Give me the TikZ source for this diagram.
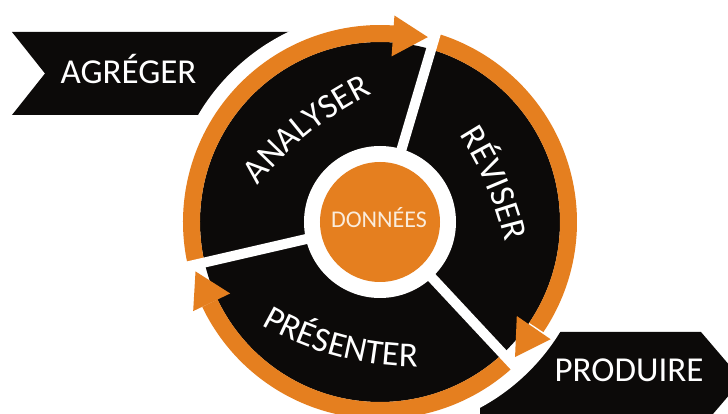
\documentclass[tikz,border=0pt]{standalone}
\usepackage{fontspec}
\setmainfont{Carlito}
\usetikzlibrary{decorations.text}
\definecolor{orng}{RGB}{229,127,31}
\definecolor{blk}{RGB}{12,10,9}
\definecolor{cream}{RGB}{250,236,220}
\begin{document}
\begin{tikzpicture}[x=1pt,y=1pt,
  bannertext/.style={text=white, font=\fontsize{35}{40}\selectfont, inner sep=0pt, anchor=base},
  band/.style={draw=orng, line width=17pt},
  gapline/.style={draw=white, line width=10pt},
  headshape/.style={fill=orng},
  ringtext/.style={decorate, decoration={text along path, text align=center, text color=white, text={|\fontsize{35}{40}\selectfont|#1}}}
]
\clip (-380,-192) rectangle (348,222);
\fill[white] (-380,-192) rectangle (348,222);
% banners
\fill[blk] (-368,190) -- (-40,190) -- (-40,107) -- (-368,107) -- (-335,148.5) -- cycle;
\fill[blk] (100,-110) -- (321,-110) -- (362,-158) -- (321,-206) -- (100,-206) -- cycle;
\fill[white] (0,0) circle[radius=211];
\node[bannertext] (agreger) at (-251.5,138.5) {AGRÉGER};
\node[bannertext] (produire) at (249,-160) {PRODUIRE};
% ring
\fill[blk] (0,0) circle[radius=180];
\fill[white] (0,0) circle[radius=76];
\fill[orng] (0,0) circle[radius=60];
\draw[band] (193:188.5) arc[start angle=193, end angle=85.5, radius=188.5];
\draw[band] (73.5:188.5) arc[start angle=73.5, end angle=-34, radius=188.5];
\draw[band] (-47:188.5) arc[start angle=-47, end angle=-154.5, radius=188.5];
\foreach \g in {73.5,193,313} \draw[gapline] (\g:70) -- (\g:205);
\foreach \g in {73.5,193,313} \fill[headshape] (\g+2:191) -- (\g+12.5:207) -- (\g+12.5:166) -- cycle;
% ring texts
\path[shift={(142.6,-176.7)}, ringtext=ANALYSER] (148.7:340) arc[start angle=148.7, end angle=108.7, radius=340];
\path[shift={(-205.1,-97.5)}, ringtext=RÉVISER] (43.1:339) arc[start angle=43.1, end angle=3.1, radius=339];
\path[shift={(37.5,166.1)}, ringtext=PRÉSENTER] (235:311) arc[start angle=235, end angle=275, radius=311];
\node[text=cream, font=\fontsize{24}{28}\selectfont, anchor=base, inner sep=0pt] (donnees) at (-1,-6) {DONNÉES};
\end{tikzpicture}
\end{document}
